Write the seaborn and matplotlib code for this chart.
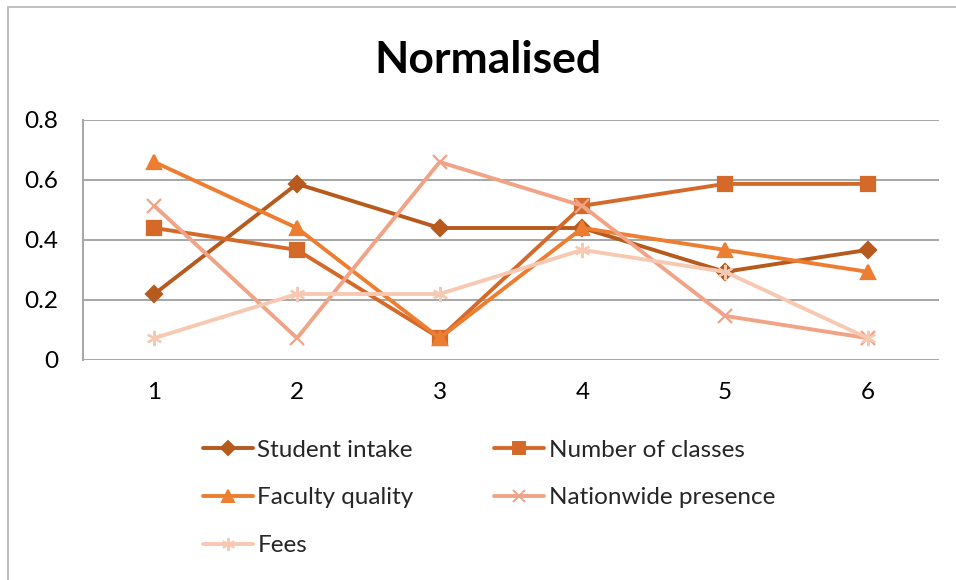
import matplotlib
matplotlib.use("Agg")
import matplotlib.pyplot as plt
import seaborn as sns
import pandas as pd
from matplotlib.lines import Line2D

categories = [1, 2, 3, 4, 5, 6]
student_intake = [0.220, 0.587, 0.440, 0.440, 0.294, 0.367]
number_of_classes = [0.440, 0.367, 0.073, 0.514, 0.587, 0.587]
faculty_quality = [0.660, 0.440, 0.073, 0.440, 0.367, 0.294]
nationwide_presence = [0.514, 0.073, 0.660, 0.514, 0.147, 0.073]
fees = [0.073, 0.220, 0.220, 0.367, 0.294, 0.073]

series_names = ["Student intake", "Number of classes", "Faculty quality",
                "Nationwide presence", "Fees"]
series_values = [student_intake, number_of_classes, faculty_quality,
                 nationwide_presence, fees]
colors = ["#B65A1E", "#D4692A", "#ED7D31", "#F1A386", "#F7C9B3"]
markers = ["D", "s", "^", "x", (6, 2, 0)]
marker_sizes = [8, 9.5, 10, 10, 11]

sns.set_theme(style="white")
plt.rcParams["font.family"] = ["Lato", "DejaVu Sans"]

fig = plt.figure(figsize=(9.56, 5.8), dpi=100)
ax = fig.add_axes([83 / 956, 1 - 360 / 580, (939 - 83) / 956, 240 / 580])

handles = {}
for name, vals, col, mk, ms in zip(series_names, series_values, colors, markers, marker_sizes):
    df = pd.DataFrame({"x": categories, "y": vals})
    sns.lineplot(data=df, x="x", y="y", ax=ax, color=col, linewidth=2.8,
                 marker=mk, markersize=ms, markeredgecolor=col,
                 markerfacecolor=col, markeredgewidth=1.6, legend=False)
    handles[name] = Line2D([], [], color=col, linewidth=2.8, marker=mk,
                           markersize=ms * 0.85, markeredgecolor=col,
                           markerfacecolor=col, markeredgewidth=1.4, label=name)

ax.set_xlim(0.5, 6.5)
ax.set_ylim(0, 0.8)
ax.set_xticks(categories)
ax.set_xticklabels([str(c) for c in categories])
yticks = [0, 0.2, 0.4, 0.6, 0.8]
ax.set_yticks(yticks)
ax.set_yticklabels(["0", "0.2", "0.4", "0.6", "0.8"])
ax.set_xlabel("")
ax.set_ylabel("")
ax.grid(axis="y", color="#A6A6A6", linewidth=1.4)
ax.grid(axis="x", visible=False)
ax.set_axisbelow(True)
for side in ["top", "right", "bottom"]:
    ax.spines[side].set_visible(False)
ax.spines["left"].set_color("#A6A6A6")
ax.spines["left"].set_linewidth(1.4)
ax.tick_params(axis="both", length=0, labelsize=17.5, colors="black")
ax.tick_params(axis="y", pad=18)
ax.tick_params(axis="x", pad=16)

fig.text(488 / 956, 1 - 60 / 580, "Normalised", ha="center", va="center",
         fontsize=32, fontweight="bold", color="black")

# legend is filled column by column; order gives row-wise reading
legend_order = ["Student intake", "Faculty quality", "Fees",
                "Number of classes", "Nationwide presence"]
fig.legend(handles=[handles[n] for n in legend_order], loc="upper left", ncol=2,
           bbox_to_anchor=(193 / 956, 1 - 430 / 580), frameon=False,
           fontsize=17.5, handlelength=2.05, handletextpad=0.2,
           columnspacing=3.3, labelspacing=1.1, borderaxespad=0)

# chart frame
fig.add_artist(Line2D([8 / 956, 8 / 956], [0, 1 - 7 / 580], color="#BFBFBF",
                      linewidth=1.4, transform=fig.transFigure))
fig.add_artist(Line2D([8 / 956, 1], [1 - 7 / 580, 1 - 7 / 580], color="#BFBFBF",
                      linewidth=1.4, transform=fig.transFigure))

fig.savefig("out.png", dpi=100, facecolor="white")
